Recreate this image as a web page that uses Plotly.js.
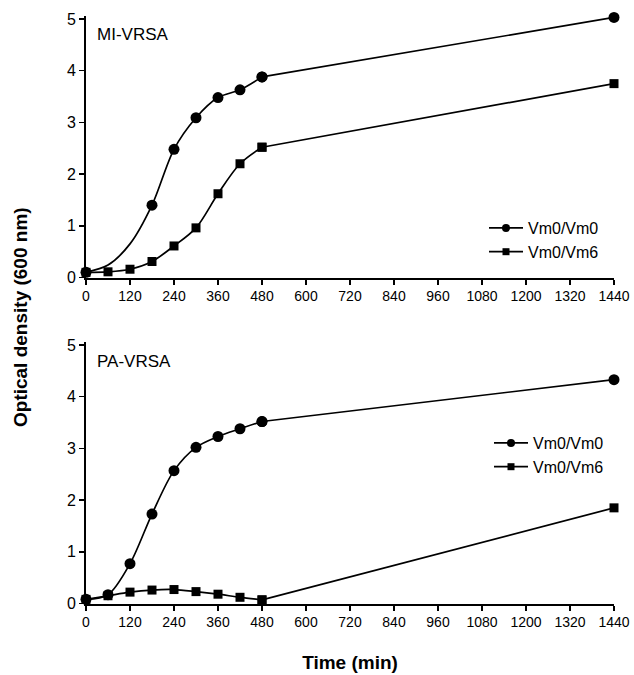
<!DOCTYPE html>
<html>
<head>
<meta charset="utf-8">
<script src="https://cdn.plot.ly/plotly-3.0.1.min.js"></script>
<style>html,body{margin:0;padding:0;background:#fff}#chart{width:634px;height:675px}</style>
</head>
<body>
<div id="chart"></div>
<script>
// MI-VRSA, Vm0/Vm0: curve read at every 60 min up to 480; only some were plotted as symbols
const timeMI_Vm0 = [0, 60, 120, 180, 240, 300, 360, 420, 480, 1440];
const odMI_Vm0 = [0.10, 0.24, 0.65, 1.40, 2.48, 3.09, 3.48, 3.63, 3.88, 5.03];
const symbolShownMI_Vm0 = [true, false, false, true, true, true, true, true, true, true];

// MI-VRSA, Vm0/Vm6
const timeMI_Vm6 = [0, 60, 120, 180, 240, 300, 360, 420, 480, 1440];
const odMI_Vm6 = [0.10, 0.11, 0.16, 0.31, 0.61, 0.96, 1.62, 2.20, 2.52, 3.75];

// PA-VRSA
const timePA = [0, 60, 120, 180, 240, 300, 360, 420, 480, 1440];
const odPA_Vm0 = [0.08, 0.17, 0.77, 1.73, 2.57, 3.02, 3.23, 3.38, 3.52, 4.33];
const odPA_Vm6 = [0.08, 0.15, 0.22, 0.26, 0.27, 0.23, 0.18, 0.12, 0.07, 1.85];

const seriesNames = ["Vm0/Vm0", "Vm0/Vm6"];
const panelLabels = ["MI-VRSA", "PA-VRSA"];
const xTicks = [0, 120, 240, 360, 480, 600, 720, 840, 960, 1080, 1200, 1320, 1440];
const splitTime = 480;

const FONT = "Liberation Sans, Arial, Helvetica, sans-serif";
const BLACK = "#000";

function makeTraces(t, v, shown, symbol, size, xa, ya) {
  const i = t.indexOf(splitTime);
  const sizes = t.map((_, k) => (shown && !shown[k]) ? 0 : size);
  const common = {mode: "lines+markers", xaxis: xa, yaxis: ya, cliponaxis: false, showlegend: false, hoverinfo: "skip"};
  return [
    Object.assign({}, common, {x: t.slice(0, i + 1), y: v.slice(0, i + 1),
      line: {color: BLACK, width: 1.7, shape: "spline", smoothing: 0.9},
      marker: {symbol: symbol, size: sizes.slice(0, i + 1), color: BLACK, opacity: 1, line: {width: 0}}}),
    Object.assign({}, common, {x: t.slice(i), y: v.slice(i),
      line: {color: BLACK, width: 1.7},
      marker: {symbol: symbol, size: sizes.slice(i), color: BLACK, opacity: 1, line: {width: 0}}})
  ];
}
function legendEntry(name, symbol, size, legend) {
  return {x: [null], y: [null], mode: "lines+markers", name: name, legend: legend, showlegend: true,
    line: {color: BLACK, width: 1.7}, marker: {symbol: symbol, size: size, color: BLACK, opacity: 1}};
}

const traces = [].concat(
  makeTraces(timeMI_Vm0, odMI_Vm0, symbolShownMI_Vm0, "circle", 11, "x", "y"),
  makeTraces(timeMI_Vm6, odMI_Vm6, null, "square", 9, "x", "y"),
  makeTraces(timePA, odPA_Vm0, null, "circle", 11, "x2", "y2"),
  makeTraces(timePA, odPA_Vm6, null, "square", 9, "x2", "y2"),
  [legendEntry(seriesNames[0], "circle", 8, "legend"), legendEntry(seriesNames[1], "square", 7, "legend"),
   legendEntry(seriesNames[0], "circle", 8, "legend2"), legendEntry(seriesNames[1], "square", 7, "legend2")]
);

const W = 634, H = 675;
const YMAX = 5.05;
const xdom = [86 / W, 614 / W];
const pxPerUnit = 258.5 / 5;
const ydomTop = [1 - 277.5 / H, 1 - (277.5 - YMAX * pxPerUnit) / H];
const ydomBot = [1 - 603.5 / H, 1 - (603.5 - YMAX * pxPerUnit) / H];

function xax(anchor, withTitle) {
  const a = {domain: xdom, anchor: anchor, range: [0, 1440], tickmode: "array", tickvals: xTicks,
    ticktext: xTicks.map(String), showgrid: false, zeroline: false, showline: true, linecolor: BLACK,
    linewidth: 2, ticks: "outside", ticklen: 5, tickwidth: 1.5, tickcolor: BLACK,
    tickfont: {family: FONT, size: 14, color: BLACK}, automargin: false, fixedrange: true};
  if (withTitle) a.title = {text: "<b>Time (min)</b>", font: {family: FONT, size: 19, color: BLACK}, standoff: 26};
  return a;
}
function yax(dom, anchor) {
  return {domain: dom, anchor: anchor, range: [0, YMAX], tickmode: "array", tickvals: [0, 1, 2, 3, 4, 5],
    showgrid: false, zeroline: false, showline: true, linecolor: BLACK, linewidth: 2, ticks: "outside",
    ticklen: 5, tickwidth: 1.5, tickcolor: BLACK, tickfont: {family: FONT, size: 16, color: BLACK},
    automargin: false, fixedrange: true};
}

const legendBase = {bgcolor: "rgba(0,0,0,0)", font: {family: FONT, size: 16, color: BLACK},
  xanchor: "left", yanchor: "top", tracegroupgap: 0, itemwidth: 34, traceorder: "normal"};

const layout = {
  width: W, height: H, margin: {l: 0, r: 0, t: 0, b: 0},
  paper_bgcolor: "#fff", plot_bgcolor: "#fff", showlegend: true,
  font: {family: FONT, color: BLACK},
  xaxis: xax("y", false), yaxis: yax(ydomTop, "x"),
  xaxis2: xax("y2", true), yaxis2: yax(ydomBot, "x2"),
  legend: Object.assign({}, legendBase, {x: 484 / W, y: 1 - 211 / H}),
  legend2: Object.assign({}, legendBase, {x: 489 / W, y: 1 - 426 / H}),
  annotations: [
    {text: panelLabels[0], xref: "paper", yref: "paper", x: 95 / W, y: 1 - 34 / H, xanchor: "left", yanchor: "middle",
     showarrow: false, font: {family: FONT, size: 17, color: BLACK}},
    {text: panelLabels[1], xref: "paper", yref: "paper", x: 95 / W, y: 1 - 361 / H, xanchor: "left", yanchor: "middle",
     showarrow: false, font: {family: FONT, size: 17, color: BLACK}},
    {text: "<b>Optical density (600 nm)</b>", xref: "paper", yref: "paper", x: 20 / W, y: 1 - 317 / H,
     xanchor: "center", yanchor: "middle", textangle: -90, showarrow: false,
     font: {family: FONT, size: 19, color: BLACK}}
  ]
};

Plotly.newPlot("chart", traces, layout, {displayModeBar: false, staticPlot: true});
</script>
</body>
</html>
